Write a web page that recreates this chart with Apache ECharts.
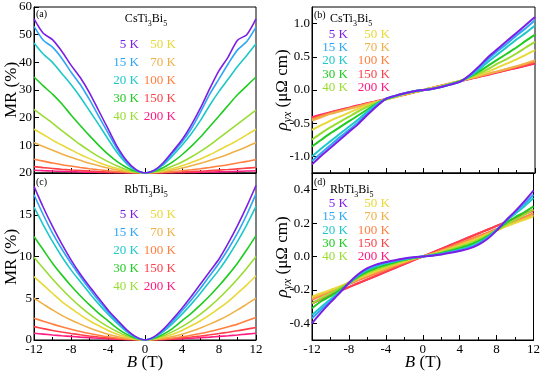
<!DOCTYPE html>
<html><head><meta charset="utf-8">
<script src="https://cdn.jsdelivr.net/npm/echarts@6/dist/echarts.min.js"></script>
<style>html,body{margin:0;padding:0;background:#fff}#c{width:543px;height:373px}</style>
</head><body><div id="c"></div>
<script>
// ---------- DATA ----------
const B = [-12,-11,-10,-9,-8,-7,-6,-5,-4,-3,-2,-1,0,1,2,3,4,5,6,7,8,9,10,11,12];
const temps = ['5 K','15 K','20 K','30 K','40 K','50 K','70 K','100 K','150 K','200 K'];
const xTicks = [-12,-8,-4,0,4,8,12];
const bTicks = [-1,-0.5,0,0.5,1];
const dTicks = [-0.4,-0.2,0,0.2,0.4];

// (a) CsTi3Bi5 MR (%)
const a5   = [55.7,50.5,48.2,44,39,34.5,29,22.5,16,9.5,4.5,1.3,0,1.0,3.8,7.8,12,17.3,23.5,30.5,37,42,48,50,55.7];
const a15  = [53,48,45.5,41.5,36.5,32,26.5,20.5,14.5,8.6,4.0,1.1,0,0.9,3.4,7.2,11.2,16,22,28.5,34,39.5,44.5,47.5,52.7];
const a20  = [47,43,40,36,32,27.5,22.5,17.5,12.3,7.3,3.4,0.9,0,0.8,3.0,6.3,10,14.2,19,24.5,29.5,34,38.5,42.5,46.7];
const a30  = [34.7,31.5,28.5,25,21,17.2,13.5,10,6.8,4.1,2.0,0.6,0,0.6,2.0,4.0,6.6,9.6,13,16.8,20.6,24.5,28.3,31.5,34.7];
const a40  = [23,20.5,18,15.3,12.8,10.3,8,5.9,4.1,2.5,1.2,0.4,0,0.4,1.2,2.5,4,5.8,7.8,10.1,12.6,15.1,17.7,20.2,22.7];
const a50  = [15.8,13.9,11.9,10.1,8.4,6.7,5.2,3.8,2.6,1.6,0.8,0.3,0,0.3,0.8,1.6,2.6,3.8,5.1,6.6,8.3,10,11.8,13.8,15.8];
const a70  = [11,9.6,8.2,6.9,5.7,4.6,3.5,2.6,1.8,1.1,0.6,0.2,0,0.2,0.6,1.1,1.8,2.6,3.5,4.5,5.6,6.8,8.1,9.5,11];
const a100 = [5,4.3,3.6,3.0,2.5,2.0,1.55,1.15,0.8,0.5,0.3,0.1,0,0.1,0.3,0.5,0.8,1.15,1.55,2,2.5,3,3.6,4.2,4.9];
const a150 = [2.3,1.95,1.65,1.35,1.1,0.88,0.67,0.5,0.35,0.22,0.12,0.05,0,0.05,0.12,0.22,0.35,0.5,0.65,0.85,1.05,1.25,1.5,1.75,2.0];
const a200 = [1.0,0.85,0.72,0.6,0.48,0.38,0.29,0.21,0.14,0.09,0.05,0.02,0,0.02,0.05,0.09,0.14,0.2,0.27,0.34,0.42,0.5,0.6,0.7,0.8];

// (c) RbTi3Bi5 MR (%)
const c5   = [18.4,15.9,13.6,11.5,9.6,7.9,6.4,5.0,3.6,2.4,1.25,0.4,0,0.4,1.3,2.5,3.8,5.2,6.7,8.2,9.7,11.6,13.7,16.0,18.5];
const c15  = [17.4,15.0,12.8,10.9,9.2,7.6,6.1,4.7,3.4,2.2,1.1,0.35,0,0.35,1.15,2.25,3.5,4.8,6.2,7.7,9.2,10.9,12.8,15.0,17.5];
const c20  = [15.9,13.8,11.8,10.0,8.4,7.0,5.6,4.3,3.1,2.0,1.0,0.3,0,0.3,1.0,2.0,3.1,4.3,5.6,7.0,8.4,10.0,11.8,13.8,16];
const c30  = [12.4,10.8,9.2,7.8,6.5,5.3,4.2,3.2,2.3,1.4,0.7,0.2,0,0.2,0.7,1.4,2.3,3.2,4.2,5.3,6.5,7.8,9.2,10.8,12.5];
const c40  = [9.9,8.6,7.3,6.1,5.0,4.0,3.1,2.3,1.6,1.0,0.5,0.14,0,0.14,0.5,1.0,1.6,2.3,3.1,4.0,5.0,6.1,7.3,8.6,10];
const c50  = [7.6,6.6,5.6,4.6,3.8,3.0,2.3,1.7,1.15,0.7,0.35,0.1,0,0.1,0.35,0.7,1.15,1.7,2.3,3.0,3.8,4.6,5.6,6.6,7.7];
const c70  = [5.0,4.3,3.6,2.95,2.4,1.9,1.45,1.05,0.7,0.42,0.2,0.06,0,0.06,0.2,0.42,0.7,1.05,1.45,1.9,2.4,2.95,3.6,4.3,5.0];
const c100 = [2.6,2.25,1.9,1.58,1.28,1.02,0.78,0.57,0.38,0.22,0.1,0.03,0,0.03,0.1,0.22,0.38,0.57,0.78,1.02,1.28,1.58,1.9,2.3,2.7];
const c150 = [1.6,1.36,1.14,0.95,0.78,0.62,0.48,0.36,0.25,0.15,0.08,0.03,0,0.03,0.08,0.15,0.25,0.36,0.48,0.62,0.77,0.93,1.1,1.3,1.5];
const c200 = [0.8,0.7,0.6,0.51,0.43,0.35,0.28,0.21,0.15,0.1,0.05,0.02,0,0.02,0.05,0.1,0.15,0.21,0.28,0.35,0.43,0.51,0.6,0.7,0.8];

// (b) CsTi3Bi5 rho_yx (μΩ cm)
const b5   = [-1.12,-0.99,-0.87,-0.75,-0.63,-0.51,-0.37,-0.24,-0.13,-0.085,-0.05,-0.02,0,0.02,0.05,0.085,0.13,0.23,0.36,0.5,0.62,0.74,0.86,0.98,1.1];
const b15  = [-1.07,-0.95,-0.83,-0.71,-0.6,-0.48,-0.35,-0.23,-0.13,-0.085,-0.05,-0.02,0,0.02,0.05,0.085,0.13,0.22,0.34,0.47,0.59,0.7,0.82,0.93,1.05];
const b20  = [-1.0,-0.88,-0.77,-0.66,-0.55,-0.44,-0.32,-0.21,-0.13,-0.09,-0.05,-0.02,0,0.02,0.05,0.09,0.13,0.21,0.31,0.43,0.54,0.65,0.76,0.86,0.97];
const b30  = [-0.85,-0.75,-0.65,-0.56,-0.47,-0.38,-0.29,-0.2,-0.135,-0.09,-0.05,-0.02,0,0.02,0.05,0.09,0.135,0.2,0.28,0.37,0.46,0.55,0.64,0.74,0.835];
const b40  = [-0.75,-0.65,-0.56,-0.48,-0.4,-0.32,-0.25,-0.19,-0.14,-0.095,-0.055,-0.025,0,0.025,0.055,0.095,0.14,0.19,0.25,0.32,0.4,0.47,0.55,0.64,0.725];
const b50  = [-0.6,-0.53,-0.46,-0.4,-0.34,-0.28,-0.23,-0.18,-0.14,-0.1,-0.06,-0.03,0,0.03,0.06,0.1,0.14,0.18,0.23,0.28,0.34,0.4,0.46,0.53,0.6];
const b70  = [-0.46,-0.41,-0.36,-0.32,-0.28,-0.245,-0.21,-0.175,-0.14,-0.105,-0.07,-0.035,0,0.035,0.07,0.105,0.14,0.175,0.21,0.245,0.28,0.32,0.36,0.4,0.45];
const b100 = [-0.44,-0.39,-0.35,-0.315,-0.28,-0.245,-0.21,-0.175,-0.14,-0.105,-0.07,-0.035,0,0.035,0.07,0.105,0.14,0.175,0.21,0.245,0.28,0.315,0.35,0.39,0.43];
const b150 = [-0.42,-0.38,-0.34,-0.3,-0.27,-0.235,-0.2,-0.17,-0.135,-0.1,-0.07,-0.035,0,0.035,0.07,0.1,0.135,0.17,0.2,0.235,0.27,0.3,0.34,0.37,0.41];
const b200 = [-0.41,-0.37,-0.335,-0.3,-0.265,-0.23,-0.2,-0.167,-0.133,-0.1,-0.067,-0.033,0,0.033,0.067,0.1,0.133,0.167,0.2,0.23,0.265,0.3,0.33,0.365,0.4];

// (d) RbTi3Bi5 rho_yx (μΩ cm)
const d5   = [-0.4,-0.335,-0.275,-0.218,-0.157,-0.106,-0.07,-0.047,-0.033,-0.022,-0.012,-0.005,0,0.005,0.012,0.022,0.033,0.047,0.07,0.105,0.155,0.215,0.27,0.33,0.395];
const d15  = [-0.37,-0.318,-0.267,-0.216,-0.159,-0.111,-0.075,-0.052,-0.037,-0.025,-0.014,-0.006,0,0.006,0.014,0.025,0.037,0.052,0.075,0.11,0.158,0.215,0.265,0.315,0.37];
const d20  = [-0.35,-0.302,-0.256,-0.211,-0.161,-0.114,-0.08,-0.057,-0.041,-0.028,-0.016,-0.007,0,0.007,0.016,0.028,0.041,0.057,0.08,0.113,0.16,0.21,0.255,0.3,0.35];
const d30  = [-0.31,-0.268,-0.237,-0.201,-0.161,-0.121,-0.09,-0.067,-0.05,-0.034,-0.02,-0.009,0,0.009,0.02,0.034,0.05,0.067,0.09,0.12,0.16,0.2,0.235,0.265,0.3];
const d40  = [-0.28,-0.25,-0.221,-0.19,-0.158,-0.127,-0.1,-0.077,-0.058,-0.04,-0.024,-0.01,0,0.01,0.024,0.04,0.058,0.077,0.1,0.127,0.158,0.19,0.22,0.25,0.28];
const d50  = [-0.24,-0.22,-0.2,-0.18,-0.155,-0.13,-0.107,-0.085,-0.065,-0.045,-0.028,-0.012,0,0.012,0.028,0.045,0.065,0.085,0.107,0.13,0.155,0.18,0.2,0.22,0.24];
const d70  = [-0.25,-0.227,-0.204,-0.18,-0.158,-0.135,-0.113,-0.092,-0.072,-0.052,-0.033,-0.015,0,0.015,0.033,0.052,0.072,0.092,0.113,0.135,0.158,0.18,0.204,0.227,0.25];
const d100 = [-0.26,-0.235,-0.21,-0.187,-0.165,-0.143,-0.122,-0.1,-0.08,-0.058,-0.037,-0.017,0,0.017,0.037,0.058,0.08,0.1,0.122,0.143,0.165,0.187,0.21,0.235,0.26];
const d150 = [-0.28,-0.255,-0.23,-0.206,-0.183,-0.16,-0.137,-0.114,-0.091,-0.068,-0.045,-0.022,0,0.022,0.045,0.068,0.091,0.114,0.137,0.16,0.183,0.206,0.23,0.255,0.28];
const d200 = [-0.28,-0.253,-0.229,-0.206,-0.183,-0.16,-0.138,-0.115,-0.092,-0.069,-0.046,-0.023,0,0.023,0.046,0.069,0.092,0.115,0.138,0.16,0.183,0.205,0.228,0.252,0.275];

// ---------- STYLE ----------
const colors = ['#7B1FE6','#2EA6F5','#1FC8C8','#20CC20','#99DD33','#E8D838','#F0B048','#FF8040','#FF4048','#FF1A80'];
const FF = '"Liberation Serif","Times New Roman",serif';

const panels = [
  {grid:{left:34,top:7,width:222,height:166}, sets:[a5,a15,a20,a30,a40,a50,a70,a100,a150,a200], lw:1.6},
  {grid:{left:312,top:7,width:223,height:166}, sets:[b5,b15,b20,b30,b40,b50,b70,b100,b150,b200], lw:2},
  {grid:{left:34,top:173,width:222,height:167}, sets:[c5,c15,c20,c30,c40,c50,c70,c100,c150,c200], lw:1.6},
  {grid:{left:312,top:173,width:223,height:167}, sets:[d5,d15,d20,d30,d40,d50,d70,d100,d150,d200], lw:2}
];

const grids = panels.map(p => Object.assign({show:true, borderColor:'#000', borderWidth:1, backgroundColor:'transparent'}, p.grid));

function xAx(i, labels){
  return {type:'value', gridIndex:i, min:-12, max:12, interval:4,
    axisLine:{onZero:false, lineStyle:{color:'#000',width:1}},
    axisTick:{inside:true, length:5, lineStyle:{color:'#000'}},
    minorTick:{show:true, splitNumber:2, length:3, lineStyle:{color:'#000'}},
    splitLine:{show:false},
    axisLabel:{show:labels, margin:3, color:'#000', fontFamily:FF, fontSize:13}};
}
const lblBase = {color:'#000', fontFamily:FF, fontSize:13, margin:2};
const yLine = {onZero:false, lineStyle:{color:'#000'}};
const yAxes = [
  {type:'value', gridIndex:0, min:0, max:60, interval:10,
    axisLine:yLine, axisTick:{inside:true,length:5,lineStyle:{color:'#000'}},
    splitLine:{show:false}, axisLabel:Object.assign({showMinLabel:false}, lblBase)},
  {type:'value', gridIndex:1, min:-1.25, max:1.25,
    axisLine:yLine, axisTick:{inside:true,length:5,customValues:bTicks,lineStyle:{color:'#000'}},
    splitLine:{show:false}, axisLabel:Object.assign({customValues:bTicks, formatter:v=>v.toFixed(1)}, lblBase)},
  {type:'value', gridIndex:2, min:0, max:20, interval:5,
    axisLine:yLine, axisTick:{inside:true,length:5,lineStyle:{color:'#000'}},
    splitLine:{show:false}, axisLabel:lblBase},
  {type:'value', gridIndex:3, min:-0.5, max:0.5,
    axisLine:yLine, axisTick:{inside:true,length:5,customValues:dTicks,lineStyle:{color:'#000'}},
    splitLine:{show:false}, axisLabel:Object.assign({customValues:dTicks, formatter:v=>v.toFixed(1)}, lblBase)}
];

const series = [];
panels.forEach((p, pi) => {
  for (let k = p.sets.length - 1; k >= 0; k--) {
    series.push({type:'line', xAxisIndex:pi, yAxisIndex:pi, showSymbol:false, smooth:0.25,
      silent:true, animation:false,
      lineStyle:{color:colors[k], width:p.lw}, z:2,
      data: B.map((b, j) => [b, p.sets[k][j]])});
  }
});

// ---------- TEXT ----------
const g = [];
function txt(x, y, text, style, extra){
  g.push(Object.assign({type:'text', x:x, y:y, silent:true, style:Object.assign({text:text, fontFamily:FF, fill:'#000'}, style)}, extra||{}));
}
const subRich = (fs) => ({
  n:{fontFamily:FF, fontSize:fs, verticalAlign:'top', lineHeight:fs, fill:'#000'},
  s:{fontFamily:FF, fontSize:Math.round(fs*0.68), verticalAlign:'top', padding:[fs*0.55,0,0,0], fill:'#000'}
});
// compound titles
txt(146, 13, '{n|CsTi}{s|3}{n|Bi}{s|5}', {rich:subRich(12), align:'center'});
txt(146, 184, '{n|RbTi}{s|3}{n|Bi}{s|5}', {rich:subRich(12), align:'center'});
txt(330, 13, '{n|CsTi}{s|3}{n|Bi}{s|5}', {rich:subRich(12), align:'left'});
txt(330, 184, '{n|RbTi}{s|3}{n|Bi}{s|5}', {rich:subRich(12), align:'left'});
// panel letters
txt(36, 14, '(a)', {fontSize:10, verticalAlign:'middle'});
txt(314, 15, '(b)', {fontSize:10, verticalAlign:'middle'});
txt(36, 182, '(c)', {fontSize:10, verticalAlign:'middle'});
txt(314, 182, '(d)', {fontSize:10, verticalAlign:'middle'});
// temperature legends
function legend(x1, x2, y0, dy){
  temps.forEach((t, k) => {
    const col = k < 5 ? 0 : 1, row = k % 5;
    txt(col ? x2 : x1, y0 + row*dy, t, {fontSize:13, fill:colors[k], align:'right', verticalAlign:'middle'});
  });
}
legend(139, 176, 45, 17.8);
legend(139, 176, 215, 17.8);
legend(348, 390, 34.5, 13.2);
legend(348, 390, 203.5, 13.3);
// axis titles
const yt = {fontSize:17, verticalAlign:'middle', align:'center'};
txt(12, 90, 'MR (%)', yt, {rotation:Math.PI/2});
txt(12, 257, 'MR (%)', yt, {rotation:Math.PI/2});
const rhoRich = {
  r:{fontFamily:FF, fontSize:17, fontStyle:'italic', verticalAlign:'top', lineHeight:17, fill:'#000'},
  s:{fontFamily:FF, fontSize:12, fontStyle:'italic', verticalAlign:'top', padding:[8,0,0,0], fill:'#000'},
  n:{fontFamily:FF, fontSize:17, verticalAlign:'top', lineHeight:17, fill:'#000'}
};
txt(284, 90, '{r|ρ}{s|yx}{n| (μΩ cm)}', {rich:rhoRich, align:'center', verticalAlign:'middle'}, {rotation:Math.PI/2});
txt(284, 257, '{r|ρ}{s|yx}{n| (μΩ cm)}', {rich:rhoRich, align:'center', verticalAlign:'middle'}, {rotation:Math.PI/2});
const bRich = {i:{fontFamily:FF, fontSize:17, fontStyle:'italic', fill:'#000'}, n:{fontFamily:FF, fontSize:17, fill:'#000'}};
txt(145, 363, '{i|B}{n| (T)}', {rich:bRich, align:'center', verticalAlign:'middle'});
txt(423, 363, '{i|B}{n| (T)}', {rich:bRich, align:'center', verticalAlign:'middle'});

const chart = echarts.init(document.getElementById('c'), null, {renderer:'canvas'});
chart.setOption({
  animation:false,
  backgroundColor:'#fff',
  grid:grids,
  xAxis:[xAx(0,false), xAx(1,false), xAx(2,true), xAx(3,true)],
  yAxis:yAxes,
  series:series,
  graphic:g
});
</script></body></html>
